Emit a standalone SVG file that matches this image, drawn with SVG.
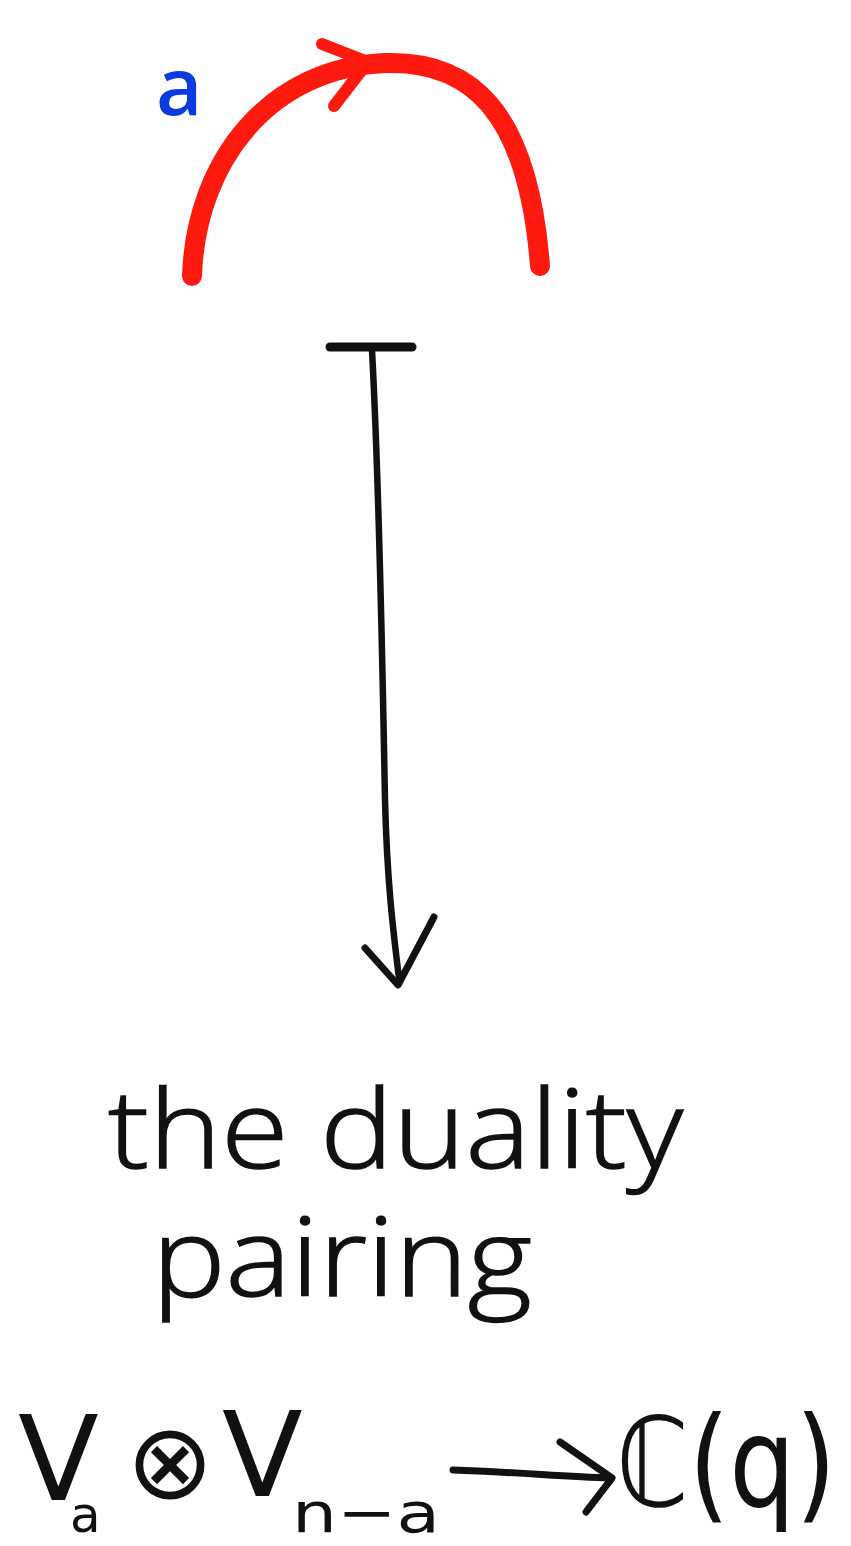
<svg xmlns="http://www.w3.org/2000/svg" width="851" height="1546" viewBox="0 0 851 1546">
<style>
.ink{fill:none;stroke:#111;stroke-linecap:round;stroke-linejoin:round}
.red{fill:none;stroke:#ff1a0f;stroke-linecap:round;stroke-linejoin:round}
.hand{font-family:"Open Sans","Liberation Sans",sans-serif;font-weight:300;fill:#111;stroke:#111;stroke-width:1.5}
.math{font-family:"DejaVu Sans",sans-serif;fill:#111}
</style>
<rect width="851" height="1546" fill="#fff"/>
<g id="loop-a">
<path class="red" d="M192,276 C196,160 270,68 385,63 C470,60 528,110 540,266" stroke-width="20"/>
<path class="red" d="M322,44 L368,62 L334,106" stroke-width="12"/>
<text x="156" y="115" font-family="Open Sans, sans-serif" font-weight="600" font-size="80" fill="#0a3ae0">a</text>
</g>
<g id="connectors">
<path class="ink" d="M330,347 L412,347" stroke-width="9"/>
<path class="ink" d="M372,350 C380,500 383,700 385,800 C387,880 393,930 399,978" stroke-width="6.5"/>
<path class="ink" d="M365,948 L398,985 L434,917" stroke-width="7"/>
</g>
<g id="label-pairing">
<text class="hand" x="108" y="1168" font-size="108" textLength="575" lengthAdjust="spacingAndGlyphs">the duality</text>
<text class="hand" x="152" y="1296" font-size="108" textLength="380" lengthAdjust="spacingAndGlyphs">pairing</text>
</g>
<g id="formula">
<text class="math" x="18" y="1500" font-size="118">V</text>
<text class="math" x="70" y="1532" font-size="50">a</text>
<text class="math" x="170" y="1498" font-size="105" text-anchor="middle">⊗</text>
<text class="math" x="222" y="1496" font-size="118">V</text>
<text class="math" x="292" y="1532" font-size="56" textLength="148" lengthAdjust="spacingAndGlyphs">n−a</text>
<path class="ink" d="M453,1470 C510,1472 560,1476 610,1478" stroke-width="7"/>
<path class="ink" d="M560,1442 L612,1478 L586,1512" stroke-width="7"/>
<text class="math" x="616" y="1506" font-size="124" textLength="220" lengthAdjust="spacingAndGlyphs">ℂ(q)</text>
</g>
</svg>
